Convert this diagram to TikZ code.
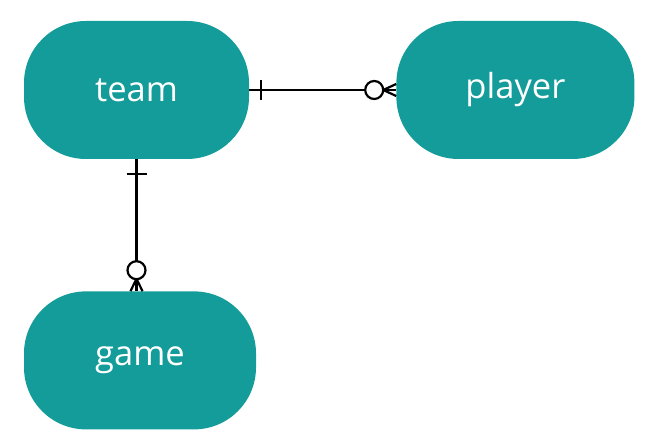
\documentclass[tikz,border=0pt]{standalone}
\usepackage{fontspec}
\setmainfont{Open Sans}
\usetikzlibrary{positioning,calc}
\definecolor{entityteal}{HTML}{139C99}
\tikzset{relline/.style={draw, line width=2.2pt}}

\begin{document}
\begin{tikzpicture}[x=1pt,y=1pt]
\tikzstyle{entity} = [rectangle, rounded corners=62pt, fill=entityteal, text=white, minimum height=138pt, font=\fontsize{34.5}{40}\selectfont]

\useasboundingbox (0,0) rectangle (650,443);

% entities
    \node [entity, minimum width=225pt] (team) at (136.5,353) {team};
    \node [entity, minimum width=238pt, right=147pt of team] (player) {player};
    \node [entity, minimum width=232pt, below=132pt of team.south west, anchor=north west] (game) {game};

% relations
    % team -- player
    \path [relline] (team.east) -- (player.west);
    \path [relline] ($(team.east)+(12,-10)$) -- ($(team.east)+(12,10)$);
    \draw [line width=2.2pt, fill=white] ($(player.west)+(-22,0)$) circle (9);
    \path [relline] ($(player.west)+(-13,0)$) -- ($(player.west)+(0,6)$);
    \path [relline] ($(player.west)+(-13,0)$) -- ($(player.west)+(0,-6)$);
    % team -- game
    \coordinate (gametop) at (team.south |- game.north);
    \path [relline] (team.south) -- (gametop);
    \path [relline] ($(team.south)+(-10,-15)$) -- ($(team.south)+(10,-15)$);
    \draw [line width=2.2pt, fill=white] ($(gametop)+(0,21)$) circle (9);
    \path [relline] ($(gametop)+(0,12.5)$) -- ($(gametop)+(-6,0)$);
    \path [relline] ($(gametop)+(0,12.5)$) -- ($(gametop)+(6,0)$);
\end{tikzpicture}
\end{document}
